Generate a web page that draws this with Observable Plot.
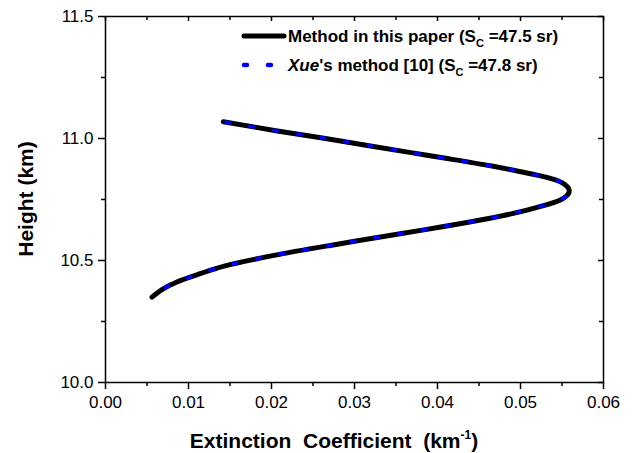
<!DOCTYPE html>
<html>
<head>
<meta charset="utf-8">
<script src="https://cdn.jsdelivr.net/npm/d3@7"></script>
<script src="https://cdn.jsdelivr.net/npm/@observablehq/plot@0.6"></script>
<style>
  body { margin: 0; background: #fff; }
  #chart { position: relative; width: 635px; height: 453px; }
</style>
</head>
<body>
<div id="chart"></div>
<script>
// Method in this paper (S_C = 47.5 sr)
const methodExt = [0.0142, 0.0207, 0.0265, 0.0321, 0.0368, 0.0408, 0.0464, 0.0496, 0.0524, 0.0545, 0.0553, 0.0558, 0.0558, 0.0548, 0.0518, 0.0490, 0.0460, 0.0404, 0.0355, 0.0283, 0.0203, 0.0143, 0.0115, 0.0086, 0.0068, 0.0056];
const methodHeight = [11.069, 11.031, 11.000, 10.968, 10.942, 10.920, 10.888, 10.867, 10.847, 10.827, 10.812, 10.795, 10.775, 10.748, 10.716, 10.692, 10.671, 10.637, 10.610, 10.569, 10.521, 10.477, 10.447, 10.412, 10.381, 10.350];
// Xue's method [10] (S_C = 47.8 sr)
const xueExt = [0.0142, 0.0207, 0.0265, 0.0321, 0.0368, 0.0408, 0.0464, 0.0496, 0.0524, 0.0545, 0.0553, 0.0558, 0.0558, 0.0548, 0.0518, 0.0490, 0.0460, 0.0404, 0.0355, 0.0283, 0.0203, 0.0143, 0.0115, 0.0086, 0.0068, 0.0056];
const xueHeight = [11.069, 11.031, 11.000, 10.968, 10.942, 10.920, 10.888, 10.867, 10.847, 10.827, 10.812, 10.795, 10.775, 10.748, 10.716, 10.692, 10.671, 10.637, 10.610, 10.569, 10.521, 10.477, 10.447, 10.412, 10.381, 10.350];

const xTicks = [0, 0.01, 0.02, 0.03, 0.04, 0.05, 0.06];
const xMinor = [0.005, 0.015, 0.025, 0.035, 0.045, 0.055];
const yTicks = [10.0, 10.5, 11.0, 11.5];
const yMinor = [10.25, 10.75, 11.25];
const seriesNames = ["Method in this paper", "Xue's method [10]"];

const method = methodExt.map((x, i) => ({x, y: methodHeight[i]}));
const xue = xueExt.map((x, i) => ({x, y: xueHeight[i]}));

const W = 635, H = 453, mL = 105, mR = 32, mT = 16, mB = 71;
const plotW = W - mL - mR, plotH = H - mT - mB;
const id = d => d;

const plot = Plot.plot({
  width: W,
  height: H,
  marginLeft: mL,
  marginRight: mR,
  marginTop: mT,
  marginBottom: mB,
  style: {fontFamily: "'Liberation Sans', Arial, sans-serif", fontSize: "17px", color: "#000", background: "#fff"},
  x: {domain: [0, 0.06]},
  y: {domain: [10, 11.5]},
  marks: [
    // tick labels
    Plot.axisX(xTicks, {anchor: "bottom", tickSize: 0, tickPadding: 13, tickFormat: d3.format(".2f"), label: null}),
    Plot.axisY(yTicks, {anchor: "left", tickSize: 0, tickPadding: 12, tickFormat: d3.format(".1f"), label: null}),
    // bottom ticks (outward)
    Plot.tickX(xTicks, {x: id, insetTop: plotH, insetBottom: -7, stroke: "#000", strokeWidth: 1.5}),
    Plot.tickX(xMinor, {x: id, insetTop: plotH, insetBottom: -4, stroke: "#000", strokeWidth: 1.5}),
    // top ticks (inward)
    Plot.tickX(xTicks, {x: id, insetTop: 0, insetBottom: plotH - 5, stroke: "#000", strokeWidth: 1.5}),
    Plot.tickX(xMinor, {x: id, insetTop: 0, insetBottom: plotH - 4, stroke: "#000", strokeWidth: 1.5}),
    // left ticks (outward)
    Plot.tickY(yTicks, {y: id, insetLeft: -7, insetRight: plotW, stroke: "#000", strokeWidth: 1.5}),
    Plot.tickY(yMinor, {y: id, insetLeft: -4, insetRight: plotW, stroke: "#000", strokeWidth: 1.5}),
    // right ticks (inward)
    Plot.tickY(yTicks, {y: id, insetLeft: plotW - 5, insetRight: 0, stroke: "#000", strokeWidth: 1.5}),
    Plot.tickY(yMinor, {y: id, insetLeft: plotW - 4, insetRight: 0, stroke: "#000", strokeWidth: 1.5}),
    Plot.frame({stroke: "#000", strokeWidth: 1.5}),
    Plot.line(method, {x: "x", y: "y", curve: "catmull-rom", stroke: "#000", strokeWidth: 5, strokeLinecap: "round", strokeLinejoin: "round"}),
    Plot.line(xue, {x: "x", y: "y", curve: "catmull-rom", stroke: "#0000ff", strokeWidth: 3.8, strokeLinecap: "round", strokeDasharray: "3.5,20.5", strokeDashoffset: -3})
  ]
});

document.getElementById("chart").appendChild(plot);

const svg = d3.select(plot);
const xs = plot.scale("x"), ys = plot.scale("y");
const cx = (xs.range[0] + xs.range[1]) / 2;
const cy = (ys.range[0] + ys.range[1]) / 2;

// X axis title with superscript
const xt = svg.append("text")
  .attr("x", cx - 20).attr("y", 448)
  .attr("text-anchor", "middle")
  .attr("font-weight", "bold").attr("font-size", 21)
  .style("white-space", "pre");
xt.append("tspan").text("Extinction  Coefficient  (km");
xt.append("tspan").attr("font-size", 12).attr("dy", -9).text("-1");
xt.append("tspan").attr("dy", 9).text(")");

// Y axis title
svg.append("text")
  .attr("transform", `translate(33,${cy}) rotate(-90)`)
  .attr("text-anchor", "middle")
  .attr("font-weight", "bold").attr("font-size", 21)
  .text("Height (km)");

// Legend
const legend = [
  {name: seriesNames[0], sc: "47.5", y: 36, kind: "solid"},
  {name: seriesNames[1], sc: "47.8", y: 65, kind: "dash"}
];
legend.forEach(d => {
  if (d.kind === "solid") {
    svg.append("line").attr("x1", 244).attr("x2", 284).attr("y1", d.y).attr("y2", d.y)
      .attr("stroke", "#000").attr("stroke-width", 5).attr("stroke-linecap", "round");
  } else {
    svg.append("line").attr("x1", 244).attr("x2", 272).attr("y1", d.y).attr("y2", d.y)
      .attr("stroke", "#0000ff").attr("stroke-width", 4.5).attr("stroke-linecap", "round")
      .attr("stroke-dasharray", "3,21");
  }
  const t = svg.append("text").attr("x", 288).attr("y", d.y + 6)
    .attr("text-anchor", "start")
    .attr("font-weight", "bold").attr("font-size", 17).style("white-space", "pre");
  if (d.kind === "dash") {
    t.append("tspan").attr("font-style", "italic").text("Xue");
    t.append("tspan").text("'s method [10] (S");
  } else {
    t.append("tspan").text(d.name + " (S");
  }
  t.append("tspan").attr("font-size", 11).attr("dy", 5).text("C");
  t.append("tspan").attr("dy", -5).text(" =" + d.sc + " sr)");
});
</script>
</body>
</html>
